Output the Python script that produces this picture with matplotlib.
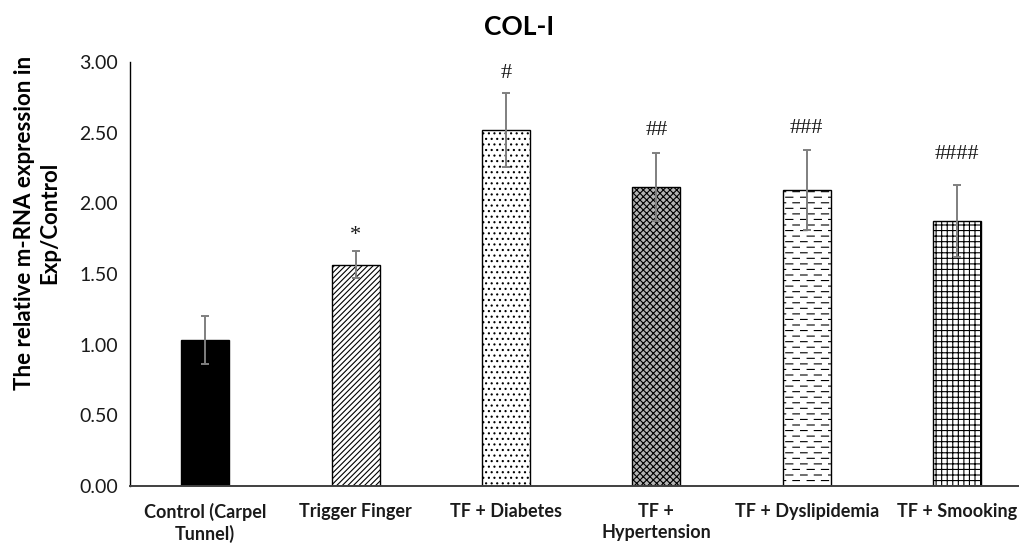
import numpy as np
import matplotlib
matplotlib.use("Agg")
import matplotlib.pyplot as plt
from matplotlib import hatch as mhatch
from matplotlib.path import Path

# ---------------- data ----------------
categories = ["Control (Carpel\nTunnel)", "Trigger Finger", "TF + Diabetes",
              "TF +\nHypertension", "TF + Dyslipidemia", "TF + Smooking"]
values = [1.03, 1.565, 2.52, 2.115, 2.095, 1.875]
errors = [0.17, 0.095, 0.26, 0.24, 0.285, 0.255]
sig_labels = ["", "*", "#", "##", "###", "####"]
sig_label_y = [None, 1.74, 2.89, 2.485, 2.50, 2.315]
yticks = [0.0, 0.5, 1.0, 1.5, 2.0, 2.5, 3.0]
title = "COL-I"
ylabel = "The relative m-RNA expression in\nExp/Control"

# ------------- custom hatches -------------
class DashedHorizontalHatch(mhatch.HatchPatternBase):
    """'-' draws staggered dashed horizontal lines."""
    def __init__(self, hatch, density):
        n = int(hatch.count('-') * density)
        if n % 2:
            n += 1
        self.num_lines = n if hatch.count('-') else 0
        self.segs = []
        if self.num_lines:
            ys = (np.arange(self.num_lines) + 0.5) / self.num_lines
            period = 1.0 / 7
            dash = period * 0.5
            for i, y in enumerate(ys):
                off = (i % 2) * period / 2
                for k in range(9):
                    s = off + k * period - period
                    e = s + dash
                    s2, e2 = max(s, 0.0), min(e, 1.0)
                    if e2 > s2:
                        self.segs.append((s2, e2, y))
        self.num_vertices = len(self.segs) * 2

    def set_vertices_and_codes(self, vertices, codes):
        for j, (s, e, y) in enumerate(self.segs):
            vertices[2 * j] = (s, y)
            vertices[2 * j + 1] = (e, y)
            codes[2 * j] = Path.MOVETO
            codes[2 * j + 1] = Path.LINETO


class PlusHorizontalHatch(mhatch.HatchPatternBase):
    """'+' keeps solid horizontal lines."""
    def __init__(self, hatch, density):
        self.num_lines = int(hatch.count('+') * density)
        self.num_vertices = self.num_lines * 2

    def set_vertices_and_codes(self, vertices, codes):
        steps, stepsize = np.linspace(0.0, 1.0, self.num_lines, False, retstep=True)
        steps += stepsize / 2.
        vertices[0::2, 0] = 0.0
        vertices[0::2, 1] = steps
        vertices[1::2, 0] = 1.0
        vertices[1::2, 1] = steps
        codes[0::2] = Path.MOVETO
        codes[1::2] = Path.LINETO


mhatch._hatch_types = [t for t in mhatch._hatch_types if t is not mhatch.HorizontalHatch]
mhatch._hatch_types = [DashedHorizontalHatch, PlusHorizontalHatch] + mhatch._hatch_types

# ------------- style -------------
plt.rcParams['font.family'] = ['Lato', 'DejaVu Sans']
plt.rcParams['hatch.linewidth'] = 0.8
plt.rcParams['hatch.color'] = 'black'

fig = plt.figure(figsize=(10.19, 5.46), dpi=100)
ax = fig.add_axes([130 / 1019, 60 / 546, 889 / 1019, (486 - 62) / 546])

x = np.arange(len(categories))
hatches = [None, '//////', '...', 'xxxxx', '---', '+++']
faces = ['black', 'white', 'white', '#b4b4b4', 'white', 'white']

bars = ax.bar(x, values, width=0.32, color=faces, edgecolor='black', linewidth=1.0,
              zorder=2)
for b, h in zip(bars, hatches):
    if h:
        b.set_hatch(h)

ax.errorbar(x, values, yerr=errors, fmt='none', ecolor='#7f7f7f', elinewidth=1.4,
            capsize=3.2, capthick=1.4, zorder=3)

for xi, lab, ly in zip(x, sig_labels, sig_label_y):
    if lab:
        ax.text(xi, ly, lab, ha='center', va='baseline', fontsize=16,
                family=['Liberation Serif', 'DejaVu Serif'], color='#1a1a1a')

ax.set_xlim(-0.5, -0.5 + 889 / 150.4)
ax.set_ylim(0, 3.0)
ax.set_yticks(yticks)
ax.set_yticklabels([f"{v:.2f}" for v in yticks], fontsize=14, color='#1a1a1a')
ax.set_xticks(x)
ax.set_xticklabels(categories, fontsize=13, fontweight='bold', color='#1a1a1a',
                   linespacing=1.3)
ax.tick_params(axis='both', length=0)
ax.tick_params(axis='y', pad=8.5)
ax.tick_params(axis='x', pad=12)

for s in ['top', 'right']:
    ax.spines[s].set_visible(False)
ax.spines['left'].set_linewidth(1.0)
ax.spines['bottom'].set_linewidth(1.4)
ax.spines['bottom'].set_color('#404040')

fig.text(519 / 1019, 1 - 27 / 546, title, ha='center', va='center', fontsize=19,
         fontweight='bold')
fig.text(37 / 1019, 1 - 223 / 546, ylabel, ha='center', va='center', rotation=90,
         fontsize=16, fontweight='bold', multialignment='center', linespacing=1.25)

fig.savefig('out.png', dpi=100)
